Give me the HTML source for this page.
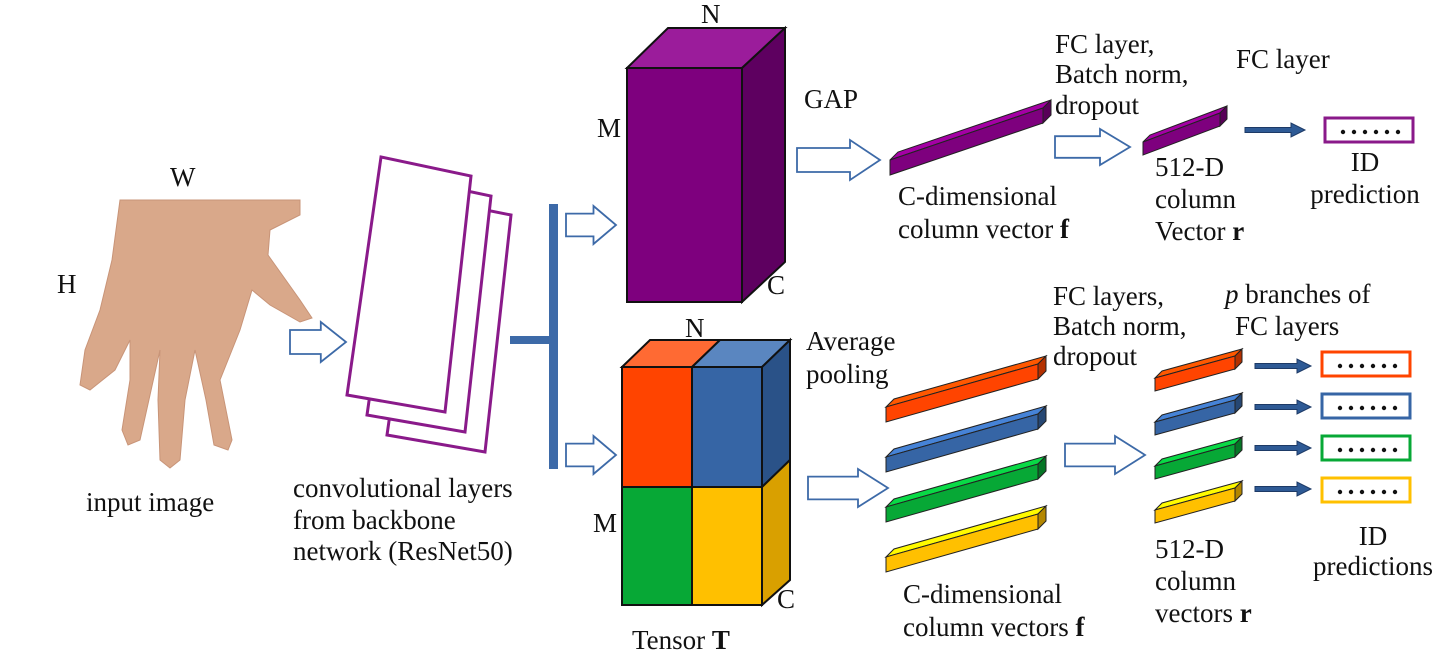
<!DOCTYPE html>
<html><head><meta charset="utf-8">
<style>
html,body{margin:0;padding:0;background:#fff;}
svg{display:block;}
text{font-family:"Liberation Serif",serif;font-size:27px;fill:#111;}
</style></head>
<body>
<svg id="s" width="1455" height="663" viewBox="0 0 1455 663">
<g>
<path d="M120,200 L300,200 L300,215 L270,230 L268,255 L300,300 L312,318 L300,322 L270,305 L252,290 L240,330 L220,380 L232,440 L228,450 L214,445 L206,400 L195,350 L185,400 L180,460 L170,468 L160,460 L158,400 L160,350 L150,395 L140,440 L128,445 L122,430 L130,380 L130,340 L115,370 L90,390 L80,385 L85,350 L100,310 L112,260 Z" fill="#d9a88a" stroke="#c89478" stroke-width="1"/>
</g>
<text x="170" y="186">W</text>
<text x="57" y="293">H</text>
<text x="86" y="511">input image</text>
<g fill="#fff" stroke="#8a1a8a" stroke-width="3">
<polygon points="421,197 511,215 485,452 387,435"/>
<polygon points="401,177 491,196 465,432 367,415"/>
<polygon points="381,157 471,176 445,412 347,395"/>
</g>
<text x="293" y="497">convolutional layers</text>
<text x="293" y="529">from backbone</text>
<text x="293" y="560">network (ResNet50)</text>
<rect x="510" y="336" width="45" height="8" fill="#3d6aa8"/>
<rect x="549" y="204" width="9" height="265" fill="#3d6aa8"/>
<g>
<polygon points="627,68 668,28 785,28 742,68" fill="#9b1c9b" stroke="#111" stroke-width="2"/>
<polygon points="742,68 785,28 785,262 742,302" fill="#5e0060" stroke="#111" stroke-width="2"/>
<rect x="627" y="68" width="115" height="234" fill="#7e007e" stroke="#111" stroke-width="2"/>
</g>
<text x="701" y="23">N</text>
<text x="597" y="137">M</text>
<text x="767" y="294">C</text>
<text x="804" y="108">GAP</text>
<g stroke="#111" stroke-width="2">
<polygon points="622,367 650,340 720,340 692,367" fill="#ff6a33"/>
<polygon points="692,367 720,340 790,340 762,367" fill="#5a86c0"/>
<polygon points="762,367 790,340 790,460 762,487" fill="#2a5288"/>
<polygon points="762,487 790,460 790,580 762,605" fill="#d9a000"/>
<rect x="622" y="367" width="70" height="120" fill="#ff4400"/>
<rect x="692" y="367" width="70" height="120" fill="#3665a5"/>
<rect x="622" y="487" width="70" height="118" fill="#07a836"/>
<rect x="692" y="487" width="70" height="118" fill="#ffc000"/>
</g>
<text x="685" y="337">N</text>
<text x="593" y="532">M</text>
<text x="777" y="608">C</text>
<text x="632" y="649">Tensor <tspan font-weight="bold">T</tspan></text>
<text x="806" y="350">Average</text>
<text x="806" y="383">pooling</text>
<text x="898" y="205">C-dimensional</text>
<text x="898" y="238">column vector <tspan font-weight="bold">f</tspan></text>
<text x="1055" y="53">FC layer,</text>
<text x="1055" y="83">Batch norm,</text>
<text x="1055" y="114">dropout</text>
<text x="1155" y="176">512-D</text>
<text x="1155" y="208">column</text>
<text x="1155" y="240">Vector <tspan font-weight="bold">r</tspan></text>
<text x="1236" y="68">FC layer</text>
<text x="1365" y="171" text-anchor="middle">ID</text>
<text x="1365" y="203" text-anchor="middle">prediction</text>
<text x="903" y="603">C-dimensional</text>
<text x="903" y="636">column vectors <tspan font-weight="bold">f</tspan></text>
<text x="1053" y="305">FC layers,</text>
<text x="1053" y="335">Batch norm,</text>
<text x="1053" y="365">dropout</text>
<text x="1225" y="303"><tspan font-style="italic">p</tspan> branches of</text>
<text x="1235" y="335">FC layers</text>
<text x="1155" y="558">512-D</text>
<text x="1155" y="590">column</text>
<text x="1155" y="622">vectors <tspan font-weight="bold">r</tspan></text>
<text x="1373" y="545" text-anchor="middle">ID</text>
<text x="1373" y="575" text-anchor="middle">predictions</text>
<g id="dyn"></g>
</svg>
<script>
const NS='http://www.w3.org/2000/svg';
const g=document.getElementById('dyn');
function mk(tag,attrs){const e=document.createElementNS(NS,tag);for(const k in attrs)e.setAttribute(k,attrs[k]);g.appendChild(e);return e;}
function hollow(x,y,len,h,name){
  const sh=h*0.3, hl=Math.min(30,len*0.45);
  const p=[[x,y-sh],[x+len-hl,y-sh],[x+len-hl,y-h/2],[x+len,y],[x+len-hl,y+h/2],[x+len-hl,y+sh],[x,y+sh]];
  const e=mk('polygon',{points:p.map(q=>q.join(',')).join(' '),fill:'#fff',stroke:'#3d6aa8','stroke-width':1.8});
  
  
}
function solid(x,y,len,name){
  const e=mk('polygon',{points:`${x},${y-2.5} ${x+len-14},${y-2.5} ${x+len-14},${y-7} ${x+len},${y} ${x+len-14},${y+7} ${x+len-14},${y+2.5} ${x},${y+2.5}`,fill:'#2e5a95',stroke:'#1d3a66','stroke-width':1});
  
  
}
function shade(c,f){const n=parseInt(c.slice(1),16);let r=n>>16,gg=(n>>8)&255,b=n&255;r=Math.min(255,Math.round(r*f));gg=Math.min(255,Math.round(gg*f));b=Math.min(255,Math.round(b*f));return 'rgb('+r+','+gg+','+b+')';}
function prism(x1,y1,x2,y2,h,d,c,name){
  const top=mk('polygon',{points:`${x1},${y1} ${x1+d},${y1-d} ${x2+d},${y2-d} ${x2},${y2}`,fill:shade(c,1.3),stroke:'#222','stroke-width':1});
  
  
  const fr=mk('polygon',{points:`${x1},${y1} ${x2},${y2} ${x2},${y2+h} ${x1},${y1+h}`,fill:c,stroke:'#222','stroke-width':1});
  
  
  const en=mk('polygon',{points:`${x2},${y2} ${x2+d},${y2-d} ${x2+d},${y2-d+h} ${x2},${y2+h}`,fill:shade(c,0.7),stroke:'#222','stroke-width':1});
  
  
}
function box(x,y,c,name){
  const r=mk('rect',{x:x,y:y,width:88,height:24,fill:'#fff',stroke:c,'stroke-width':3});
  
  
  for(let i=0;i<6;i++){const d=mk('circle',{cx:x+18+i*11,cy:y+14,r:2.2,fill:'#111'});
    
    }
}
hollow(290,342,56,40,'arrow-to-conv');
hollow(566,225,50,38,'arrow-to-gap-branch');
hollow(566,455,50,38,'arrow-to-pool-branch');
hollow(797,160,83,40,'arrow-gap');
hollow(1055,147,75,36,'arrow-fc-top');
hollow(808,488,80,38,'arrow-pool');
hollow(1065,455,80,38,'arrow-fc-bottom');
prism(890,160,1043,108,15,8,'#7e007e','vector-f-top');
prism(1143,142,1220,113,13,7,'#7e007e','vector-r-top');
solid(1245,130,60,'fc-arrow-top');
box(1325,118,'#8a1a8a','id-box-top');
const bc=['#ff4400','#3665a5','#07a836','#ffc000'];
const bn=['orange','blue','green','yellow'];
for(let i=0;i<4;i++){
  prism(886,407+i*50,1038,364+i*50,15,8,bc[i],'vector-f-'+bn[i]);
  prism(1155,378+i*44,1235,356+i*44,13,7,bc[i],'vector-r-'+bn[i]);
  solid(1255,366+i*41,56,'fc-arrow-'+bn[i]);
  box(1322,352+i*42,bc[i],'id-box-'+bn[i]);
}
</script>
</body></html>
